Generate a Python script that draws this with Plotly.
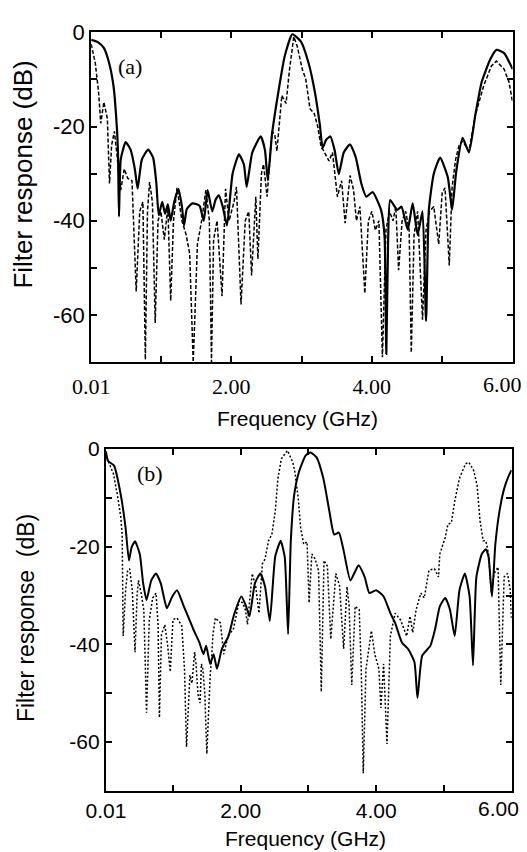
import plotly.graph_objects as go

# ---------------- data ----------------
# Panel (a) solid
a_solid_f = [0.01, 0.06, 0.11, 0.19, 0.27, 0.33, 0.365, 0.39, 0.405, 0.43, 0.50, 0.57, 0.63, 0.67, 0.73,
             0.82, 0.89, 0.935, 0.97, 1.02, 1.06, 1.10, 1.14, 1.19, 1.25, 1.30, 1.33, 1.37, 1.45, 1.55,
             1.61, 1.665, 1.73, 1.78, 1.825, 1.88, 1.94, 2.02, 2.11, 2.18, 2.22, 2.30, 2.42, 2.48, 2.52,
             2.58, 2.67, 2.76, 2.87, 2.99, 3.10, 3.19, 3.26, 3.30, 3.35, 3.41, 3.47, 3.53, 3.60, 3.69,
             3.77, 3.85, 3.92, 4.01, 4.13, 4.18, 4.205, 4.23, 4.26, 4.36, 4.42, 4.51, 4.58, 4.65, 4.72,
             4.77, 4.81, 4.88, 4.97, 5.08, 5.14, 5.20, 5.29, 5.38, 5.47, 5.56, 5.68, 5.77, 5.88, 6.00]
a_solid_db = [-1.6, -1.8, -2.1, -3.3, -6.8, -11.7, -17.9, -24.9, -39.1, -27.0, -23.3, -24.9, -29.0, -33.2, -27.0,
              -24.9, -26.6, -31.8, -38.8, -36.0, -38.5, -36.5, -40.0, -36.0, -33.3, -37.0, -41.0, -37.5, -36.3, -36.8,
              -40.0, -33.5, -38.0, -35.5, -34.6, -37.0, -41.0, -30.0, -25.9, -28.0, -32.8, -25.5, -22.1, -25.0, -31.4,
              -21.7, -12.7, -5.1, -0.4, -1.9, -6.5, -12.7, -19.6, -24.5, -22.8, -22.1, -25.0, -30.1, -25.5, -23.8,
              -26.5, -32.1, -34.9, -33.9, -37.7, -43.3, -68.3, -45.0, -35.6, -37.7, -37.0, -41.9, -36.3, -43.0, -38.0,
              -61.3, -37.7, -30.0, -26.6, -30.8, -37.7, -29.4, -22.4, -25.5, -17.6, -10.6, -5.8, -3.7, -4.4, -7.8]

# Panel (a) dashed
a_dash_f = [0.01, 0.068, 0.115, 0.146, 0.19, 0.24, 0.27, 0.30, 0.34, 0.38, 0.43, 0.48, 0.53, 0.59, 0.65,
            0.70, 0.745, 0.78, 0.81, 0.84, 0.88, 0.92, 0.96, 1.00, 1.05, 1.10, 1.14, 1.18, 1.23, 1.30,
            1.36, 1.41, 1.44, 1.46, 1.48, 1.52, 1.58, 1.64, 1.69, 1.72, 1.75, 1.80, 1.87, 1.92, 1.97,
            2.04, 2.075, 2.14, 2.20, 2.25, 2.29, 2.35, 2.38, 2.43, 2.46, 2.51, 2.58, 2.62, 2.65, 2.69,
            2.72, 2.78, 2.83, 2.89, 2.94, 3.01, 3.06, 3.12, 3.18, 3.23, 3.28, 3.31, 3.39, 3.44, 3.51,
            3.57, 3.62, 3.69, 3.74, 3.78, 3.83, 3.90, 3.95, 4.00, 4.05, 4.10, 4.15, 4.20, 4.25, 4.30,
            4.34, 4.38, 4.43, 4.48, 4.53, 4.56, 4.60, 4.65, 4.72, 4.77, 4.82, 4.88, 4.95, 5.00, 5.04,
            5.10, 5.14, 5.19, 5.24, 5.29, 5.38, 5.47, 5.59, 5.70, 5.77, 5.88, 5.95, 6.00]
a_dash_db = [-2.5, -6.5, -12.7, -19.3, -14.8, -18.3, -32.1, -24.0, -21.0, -26.0, -33.5, -29.0, -31.0, -31.5, -55.0,
             -38.0, -36.0, -69.5, -38.0, -31.8, -36.0, -61.7, -40.0, -38.0, -44.0, -37.0, -57.0, -40.0, -33.0, -40.0,
             -43.0, -47.0, -62.0, -70.0, -62.0, -45.0, -40.0, -33.5, -40.0, -70.0, -44.0, -40.0, -56.0, -33.2, -40.0,
             -36.0, -32.8, -57.8, -40.0, -38.0, -51.6, -34.9, -48.1, -30.0, -28.0, -34.9, -21.0, -21.7, -25.2, -18.3,
             -13.4, -15.1, -7.8, -0.9, -3.0, -7.8, -9.9, -16.2, -17.2, -20.0, -24.5, -25.0, -27.3, -25.5, -34.9,
             -31.5, -40.5, -30.4, -33.5, -40.0, -37.0, -55.4, -40.0, -38.0, -42.0, -40.0, -69.0, -42.0, -38.0, -40.0,
             -37.0, -50.5, -40.0, -38.0, -42.0, -68.0, -43.0, -38.0, -61.0, -42.0, -38.0, -37.0, -45.0, -34.0, -33.0,
             -49.5, -33.0, -27.0, -24.0, -23.1, -25.2, -17.6, -11.3, -7.1, -6.1, -7.8, -10.6, -14.8]

# Panel (b) solid
b_solid_f = [0.01, 0.04, 0.13, 0.23, 0.30, 0.35, 0.39, 0.44, 0.51, 0.56, 0.61, 0.68, 0.75, 0.82, 0.91,
             0.99, 1.06, 1.16, 1.23, 1.30, 1.39, 1.45, 1.49, 1.55, 1.60, 1.65, 1.72, 1.82, 1.90, 2.01,
             2.08, 2.13, 2.21, 2.29, 2.36, 2.43, 2.51, 2.59, 2.65, 2.70, 2.74, 2.79, 2.86, 2.96, 3.03,
             3.12, 3.22, 3.31, 3.38, 3.45, 3.52, 3.62, 3.74, 3.83, 3.90, 4.00, 4.11, 4.21, 4.28, 4.38,
             4.47, 4.565, 4.61, 4.68, 4.80, 4.87, 4.94, 5.02, 5.09, 5.16, 5.23, 5.31, 5.38, 5.43, 5.48,
             5.56, 5.62, 5.66, 5.71, 5.76, 5.82, 5.89, 5.96, 6.00]
b_solid_db = [-0.5, -2.4, -3.4, -9.4, -16.1, -22.8, -20.1, -18.9, -21.5, -27.5, -30.9, -26.9, -25.5, -27.5, -32.6,
              -30.2, -28.9, -32.2, -34.5, -36.9, -39.6, -42.0, -40.3, -44.0, -42.0, -45.0, -41.0, -38.3, -34.0, -30.2,
              -32.2, -34.2, -27.5, -25.5, -28.2, -35.2, -22.0, -18.8, -22.1, -37.9, -18.8, -9.4, -4.7, -1.3, -0.7,
              -1.7, -6.0, -12.8, -17.5, -17.1, -20.8, -26.9, -23.8, -26.2, -29.5, -28.9, -30.2, -33.6, -35.6, -39.6,
              -40.9, -43.6, -51.0, -42.3, -40.3, -36.9, -32.2, -30.5, -32.9, -38.3, -28.9, -25.5, -30.2, -44.3, -26.2,
              -21.5, -20.5, -22.1, -30.2, -19.5, -12.8, -8.1, -5.4, -4.3]

# Panel (b) dashed
b_dash_f = [0.01, 0.05, 0.12, 0.18, 0.23, 0.25, 0.265, 0.30, 0.33, 0.36, 0.40, 0.44, 0.47, 0.49, 0.53,
            0.57, 0.61, 0.65, 0.70, 0.75, 0.78, 0.80, 0.83, 0.88, 0.92, 0.96, 1.00, 1.06, 1.13, 1.17,
            1.20, 1.25, 1.28, 1.32, 1.34, 1.37, 1.40, 1.42, 1.44, 1.47, 1.50, 1.53, 1.55, 1.57, 1.59,
            1.625, 1.70, 1.75, 1.82, 1.89, 1.98, 2.03, 2.07, 2.10, 2.17, 2.22, 2.27, 2.32, 2.36, 2.41,
            2.46, 2.51, 2.55, 2.60, 2.69, 2.77, 2.80, 2.85, 2.885, 2.93, 2.98, 3.01, 3.05, 3.10, 3.15,
            3.19, 3.23, 3.28, 3.33, 3.405, 3.46, 3.52, 3.57, 3.60, 3.64, 3.69, 3.75, 3.78, 3.81, 3.85,
            3.93, 3.98, 4.04, 4.07, 4.11, 4.16, 4.21, 4.28, 4.36, 4.45, 4.50, 4.54, 4.59, 4.66, 4.71,
            4.78, 4.86, 4.92, 4.94, 5.02, 5.06, 5.11, 5.16, 5.23, 5.32, 5.37, 5.44, 5.49, 5.535, 5.58,
            5.62, 5.66, 5.70, 5.74, 5.80, 5.84, 5.89, 5.94, 5.98, 6.00]
b_dash_db = [-1.0, -2.7, -5.0, -9.4, -14.0, -17.5, -38.3, -29.0, -25.0, -24.5, -29.0, -41.6, -30.0, -26.9, -29.5,
             -33.0, -54.0, -35.0, -30.5, -29.5, -36.0, -55.0, -38.0, -36.0, -40.0, -45.6, -34.9, -34.6, -36.2, -45.0,
             -61.0, -46.3, -48.0, -41.6, -44.0, -50.3, -52.0, -44.0, -45.0, -50.0, -62.4, -50.0, -46.3, -43.0, -38.0,
             -34.6, -35.6, -42.0, -38.0, -37.0, -31.0, -31.5, -33.0, -35.9, -25.5, -28.0, -33.6, -23.5, -22.5, -18.8,
             -17.5, -12.8, -6.0, -2.0, -0.3, -2.7, -4.7, -10.1, -16.1, -19.5, -19.0, -31.5, -21.5, -22.5, -25.0,
             -49.7, -22.8, -24.0, -38.9, -25.5, -28.0, -40.9, -28.2, -32.0, -48.3, -32.2, -32.9, -45.0, -66.4, -45.0,
             -37.2, -42.0, -45.0, -53.0, -44.0, -60.4, -38.3, -33.6, -35.0, -38.3, -34.2, -37.6, -32.9, -29.5, -30.5,
             -24.8, -24.5, -26.2, -21.5, -18.1, -15.4, -15.1, -10.7, -6.0, -3.0, -2.7, -4.4, -7.4, -14.8, -18.8,
             -18.8, -21.5, -29.5, -25.5, -24.2, -48.3, -26.2, -25.5, -28.9, -35.0]

# ticks
x_tickvals = [0.01, 1, 2, 3, 4, 5, 6]
x_ticktext = ["0.01", "", "2.00", "", "4.00", "", ""]
x_edge_label = "6.00"          # label of the tick at the right edge
y_tickvals = [0, -10, -20, -30, -40, -50, -60, -70]
y_ticktext = ["0", "", "-20", "", "-40", "", "-60", ""]

# ---------------- figure ----------------
W, H = 527, 852
SANS = "Liberation Sans, Arial, sans-serif"
SERIF = "Liberation Serif, Times New Roman, serif"

fig = go.Figure()
fig.add_trace(go.Scatter(x=a_solid_f, y=a_solid_db, mode="lines",
                         line=dict(color="black", width=2.2, shape="spline", smoothing=0.5),
                         xaxis="x", yaxis="y"))
fig.add_trace(go.Scatter(x=a_dash_f, y=a_dash_db, mode="lines",
                         line=dict(color="black", width=1.5, dash="4px,2px"), xaxis="x", yaxis="y"))
fig.add_trace(go.Scatter(x=b_solid_f, y=b_solid_db, mode="lines",
                         line=dict(color="black", width=2.0, shape="spline", smoothing=0.5),
                         xaxis="x2", yaxis="y2"))
fig.add_trace(go.Scatter(x=b_dash_f, y=b_dash_db, mode="lines",
                         line=dict(color="black", width=1.5, dash="2px,2px"), xaxis="x2", yaxis="y2"))

def xax(domain, anchor, font, standoff):
    return dict(domain=domain, anchor=anchor, range=[0.01, 6.0],
                tickmode="array", tickvals=x_tickvals, ticktext=x_ticktext,
                ticks="inside", ticklen=6, tickwidth=1.5, tickcolor="black",
                showline=True, linewidth=2, linecolor="black", mirror="ticks",
                showgrid=False, zeroline=False, tickfont=font, ticklabelstandoff=standoff)

def yax(domain, anchor, font):
    return dict(domain=domain, anchor=anchor, range=[-70, 0],
                tickmode="array", tickvals=y_tickvals, ticktext=y_ticktext,
                ticks="inside", ticklen=6, tickwidth=1.5, tickcolor="black",
                showline=True, linewidth=2, linecolor="black", mirror="ticks",
                showgrid=False, zeroline=False, tickfont=font)

def note(text, x, y, font, size, angle=0, xref="paper", yref="paper"):
    return dict(text=text, x=x, y=y, xref=xref, yref=yref, showarrow=False,
                xanchor="center", yanchor="middle", textangle=angle,
                font=dict(family=font, size=size, color="black"))

fig.update_layout(
    width=W, height=H, margin=dict(l=0, r=0, t=0, b=0),
    paper_bgcolor="white", plot_bgcolor="white", showlegend=False,
    xaxis=xax([74 / W, 512 / W], "y", dict(family=SERIF, size=22, color="black"), 4),
    yaxis=yax([1 - 355 / H, 1 - 20.7 / H], "x", dict(family=SANS, size=22, color="black")),
    xaxis2=xax([89.3 / W, 511 / W], "y2", dict(family=SANS, size=21, color="black"), 0),
    yaxis2=yax([1 - 790 / H, 1 - 443.3 / H], "x2", dict(family=SANS, size=21, color="black")),
    annotations=[
        note("(a)", 0.56, -7.3, SERIF, 22, xref="x", yref="y"),
        note("(b)", 0.66, -5.0, SERIF, 22, xref="x2", yref="y2"),
        note(x_edge_label, 502 / W, 1 - 378 / H, SERIF, 22),
        note(x_edge_label, 497 / W, 1 - 808 / H, SANS, 21),
        note("Frequency (GHz)", 288 / W, 1 - 412 / H, SANS, 21),
        note("Filter response (dB)", 3 / W, 1 - 165 / H, SANS, 26, angle=-90),
        note("Frequency (GHz)", 297 / W, 1 - 838 / H, SANS, 21),
        note("Filter response  (dB)", 7 / W, 1 - 615 / H, SANS, 23, angle=-90),
    ],
)

fig.write_html("out.html", config={"displayModeBar": False},
               post_script="document.body.style.margin='0';")
